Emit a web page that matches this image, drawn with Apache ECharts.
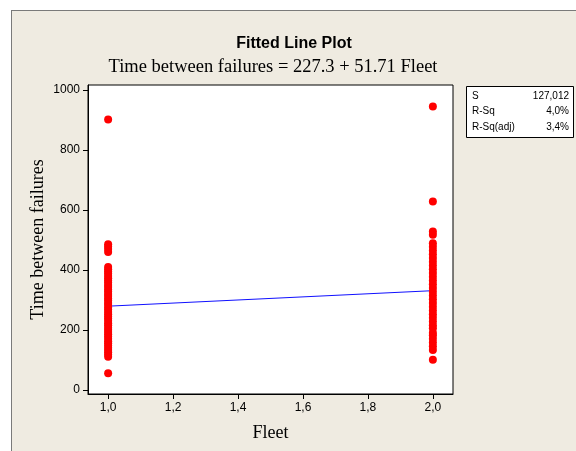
<!DOCTYPE html>
<html>
<head>
<meta charset="utf-8">
<script src="https://cdn.jsdelivr.net/npm/echarts@6/dist/echarts.min.js"></script>
<style>
html,body{margin:0;padding:0;background:#ffffff;}
#frame{position:absolute;left:11px;top:10px;width:564px;height:440px;background:#EFEBE1;border-left:1px solid #7a7a7a;border-top:1px solid #7a7a7a;}
#chart{position:absolute;left:0;top:0;width:576px;height:451px;}
</style>
</head>
<body>
<div id="frame"></div>
<div id="chart"></div>
<script>
// Data
const fleet1Values = [55, 110, 118, 125, 133, 140, 148, 155, 162, 170, 178, 185, 193, 200, 207, 215, 222, 230, 238, 245, 252, 260, 268, 275, 283, 290, 298, 305, 313, 320, 328, 335, 343, 350, 358, 365, 372, 380, 388, 395, 402, 410, 460, 470, 478, 486, 902];
const fleet2Values = [100, 133, 145, 158, 170, 182, 190, 205, 215, 228, 240, 252, 265, 277, 290, 302, 315, 327, 340, 352, 365, 377, 390, 402, 415, 427, 440, 452, 465, 477, 489, 517, 528, 628, 945];
const fitIntercept = 227.3;
const fitSlope = 51.71;
const xTicks = [1.0, 1.2, 1.4, 1.6, 1.8, 2.0];
const yTicks = [0, 200, 400, 600, 800, 1000];
const statLabels = ['S', 'R-Sq', 'R-Sq(adj)'];
const statValues = ['127,012', '4,0%', '3,4%'];

const points = fleet1Values.map(v => [1, v]).concat(fleet2Values.map(v => [2, v]));
const fitLine = [[1, fitIntercept + fitSlope * 1], [2, fitIntercept + fitSlope * 2]];

const chart = echarts.init(document.getElementById('chart'), null, {renderer: 'canvas'});

const statTexts = [];
statLabels.forEach((s, i) => {
  statTexts.push({type: 'text', x: 472, y: 96 + i * 15.5, style: {text: s, font: '10px "Liberation Sans"', fill: '#000', textVerticalAlign: 'middle', textAlign: 'left'}});
  statTexts.push({type: 'text', x: 569, y: 96 + i * 15.5, style: {text: statValues[i], font: '10px "Liberation Sans"', fill: '#000', textVerticalAlign: 'middle', textAlign: 'right'}});
});

const option = {
  backgroundColor: 'transparent',
  animation: false,
  grid: {left: 88, top: 85, width: 365, height: 309, show: true, backgroundColor: '#ffffff', borderColor: '#000', borderWidth: 1},
  xAxis: {
    type: 'value', min: 0.938, max: 2.062,
    name: 'Fleet', nameLocation: 'middle', nameGap: 30,
    nameTextStyle: {fontFamily: 'Liberation Serif', fontSize: 18, color: '#000'},
    axisLine: {show: true, onZero: false, lineStyle: {color: '#000', width: 1}},
    axisTick: {show: true, length: 5, lineStyle: {color: '#000'}, customValues: xTicks},
    axisLabel: {color: '#000', fontFamily: 'Liberation Sans', fontSize: 12, margin: 8, customValues: xTicks,
      formatter: v => v.toFixed(1).replace('.', ',')},
    splitLine: {show: false}
  },
  yAxis: {
    type: 'value', min: -14, max: 1017,
    name: 'Time between failures', nameLocation: 'middle', nameGap: 41, nameRotate: 90, nameMoveOverlap: false,
    nameTextStyle: {fontFamily: 'Liberation Serif', fontSize: 18, color: '#000'},
    axisLine: {show: true, onZero: false, lineStyle: {color: '#000', width: 1}},
    axisTick: {show: true, length: 5, lineStyle: {color: '#000'}, customValues: yTicks},
    axisLabel: {color: '#000', fontFamily: 'Liberation Sans', fontSize: 12, margin: 8, customValues: yTicks,
      formatter: v => String(v)},
    splitLine: {show: false}
  },
  graphic: [
    {type: 'text', x: 294, y: 44, style: {text: 'Fitted Line Plot', font: 'bold 16px "Liberation Sans"', fill: '#000', textAlign: 'center', textVerticalAlign: 'middle'}},
    {type: 'text', x: 273, y: 67, style: {text: 'Time between failures = 227.3 + 51.71 Fleet', font: '18.5px "Liberation Serif"', fill: '#000', textAlign: 'center', textVerticalAlign: 'middle'}},
    {type: 'rect', shape: {x: 466.5, y: 86.5, width: 107, height: 51}, style: {fill: '#fff', stroke: '#000', lineWidth: 1}},
    ...statTexts
  ],
  series: [
    {type: 'scatter', data: points, symbol: 'circle', symbolSize: 8, itemStyle: {color: '#FF0000', opacity: 1}, z: 3},
    {type: 'line', data: fitLine, symbol: 'none', lineStyle: {color: '#1010FF', width: 1}, z: 2}
  ]
};
chart.setOption(option);
</script>
</body>
</html>
